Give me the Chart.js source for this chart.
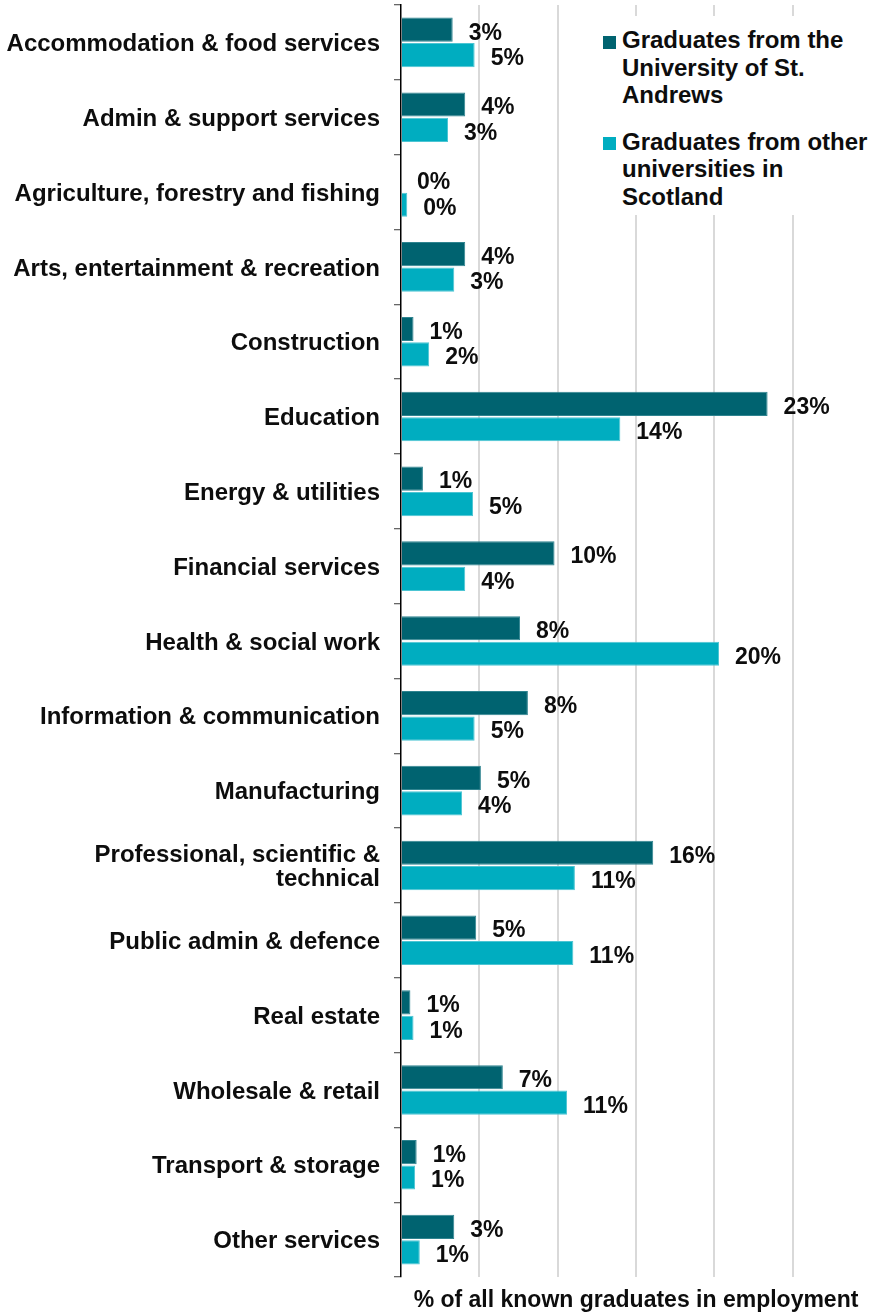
<!DOCTYPE html>
<html>
<head>
<meta charset="utf-8">
<script src="https://cdn.jsdelivr.net/npm/chart.js@4"></script>
<style>
  body { margin: 0; background: #fff; }
  .wrap { position: relative; width: 881px; height: 1316px; }
  .legend {
    position: absolute; left: 595px; top: 16px; width: 286px; height: 199px;
    background: #fff; color: #0d0d0d;
    font: bold 24px/27.5px "Liberation Sans", Arial, sans-serif;
  }
  .legend-item { position: absolute; left: 27px; white-space: nowrap; }
  .swatch { position: absolute; left: -19px; top: 9.5px; width: 13px; height: 13px; }
</style>
</head>
<body>
<div class="wrap">
  <canvas id="sectorChart" width="881" height="1316"></canvas>
  <div class="legend">
    <div class="legend-item" style="top: 10px;">
      <span class="swatch" style="background: #006370;"></span>
      Graduates from the<br>University of St.<br>Andrews
    </div>
    <div class="legend-item" style="top: 111.5px;">
      <span class="swatch" style="background: #00adc0;"></span>
      Graduates from other<br>universities in<br>Scotland
    </div>
  </div>
</div>
<script>
/* Data */
const sectors = [
  'Accommodation & food services',
  'Admin & support services',
  'Agriculture, forestry and fishing',
  'Arts, entertainment & recreation',
  'Construction',
  'Education',
  'Energy & utilities',
  'Financial services',
  'Health & social work',
  'Information & communication',
  'Manufacturing',
  ['Professional, scientific &', 'technical'],
  'Public admin & defence',
  'Real estate',
  'Wholesale & retail',
  'Transport & storage',
  'Other services',
];
const stAndrews = [3.3, 4.1, 0, 4.1, 0.8, 23.4, 1.4, 9.8, 7.6, 8.1, 5.1, 16.1, 4.8, 0.6, 6.5, 1.0, 3.4];
const otherScotland = [4.7, 3.0, 0.4, 3.4, 1.8, 14.0, 4.6, 4.1, 20.3, 4.7, 3.9, 11.1, 11.0, 0.8, 10.6, 0.9, 1.2];
const axisTitle = '% of all known graduates in employment';

const FONT = '"Liberation Sans", Arial, sans-serif';

/* Value labels at the end of each bar */
const barLabels = {
  id: 'barLabels',
  afterDatasetsDraw(chart) {
    const ctx = chart.ctx;
    ctx.save();
    ctx.font = 'bold 23px ' + FONT;
    ctx.fillStyle = '#0d0d0d';
    ctx.textAlign = 'left';
    ctx.textBaseline = 'middle';
    chart.data.datasets.forEach((ds, i) => {
      chart.getDatasetMeta(i).data.forEach((bar, j) => {
        ctx.fillText(Math.round(ds.data[j]) + '%', bar.x + 16, bar.y + 3.5);
      });
    });
    ctx.restore();
  },
};

const ctxSector = document.getElementById('sectorChart').getContext('2d');
const sectorChart = new Chart(ctxSector, {
  type: 'bar',
  data: {
    labels: sectors,
    datasets: [
      {
        label: 'Graduates from the University of St. Andrews',
        data: stAndrews,
        backgroundColor: '#006370',
        borderColor: '#2f8490',
        borderWidth: 1,
        categoryPercentage: 0.68,
        barPercentage: 0.95,
      },
      {
        label: 'Graduates from other universities in Scotland',
        data: otherScotland,
        backgroundColor: '#00adc0',
        borderColor: '#4cc5d3',
        borderWidth: 1,
        categoryPercentage: 0.68,
        barPercentage: 0.95,
      },
    ],
  },
  plugins: [barLabels],
  options: {
    indexAxis: 'y',
    responsive: false,
    animation: false,
    layout: { padding: { top: 5, right: 10, bottom: 0, left: 0 } },
    plugins: {
      legend: { display: false },
      tooltip: { enabled: false },
    },
    scales: {
      x: {
        min: 0,
        max: 30,
        ticks: { display: false, stepSize: 5 },
        border: { display: false },
        grid: {
          drawTicks: false,
          lineWidth: 2,
          color: (c) => (c.tick && (c.tick.value === 0 || c.tick.value === 30) ? 'rgba(0,0,0,0)' : '#d9d9d9'),
        },
        title: {
          display: true,
          text: axisTitle,
          color: '#0d0d0d',
          font: { family: FONT, size: 23, weight: 'bold' },
          padding: { top: 0, bottom: 2 },
        },
        afterFit: (scale) => { scale.height = 39; },
      },
      y: {
        ticks: {
          autoSkip: false,
          padding: 14,
          labelOffset: 2,
          color: '#0d0d0d',
          font: { family: FONT, size: 24, weight: 'bold', lineHeight: 1.03 },
        },
        border: { display: true, color: '#000', width: 1.5 },
        grid: {
          offset: true,
          drawOnChartArea: false,
          tickLength: 7,
          color: '#666',
          lineWidth: 1.3,
        },
        afterFit: (scale) => {
          scale.width = 401;
          scale.paddingTop = 0;
          scale.paddingBottom = 0;
        },
      },
    },
  },
});
</script>
</body>
</html>
